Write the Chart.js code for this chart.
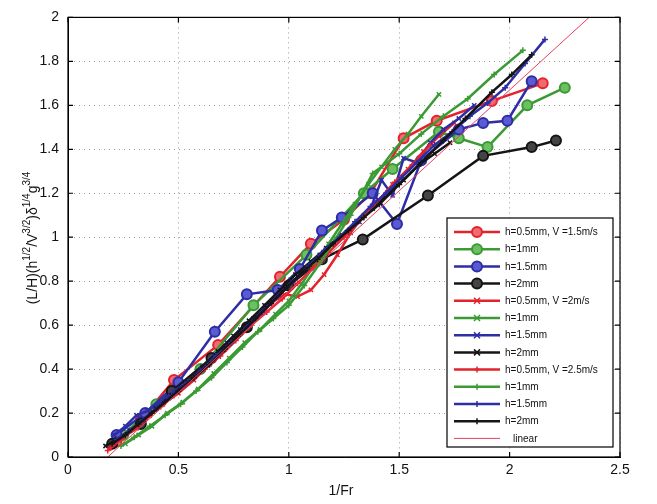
<!DOCTYPE html>
<html>
<head>
<meta charset="utf-8">
<script src="https://cdn.jsdelivr.net/npm/chart.js@4/dist/chart.umd.min.js"></script>
<style>
  html, body { margin: 0; padding: 0; background: #fff; }
  canvas { display: block; }
</style>
</head>
<body>
<canvas id="lengthChart" width="657" height="504" style="width:657px;height:504px"></canvas>
<script>
// tick values
const xTicks = [0, 0.5, 1, 1.5, 2, 2.5];
const yTicks = [0, 0.2, 0.4, 0.6, 0.8, 1, 1.2, 1.4, 1.6, 1.8, 2];

// legend labels (same order as the series below)
const legendLabels = [
    'h=0.5mm, V =1.5m/s', 'h=1mm', 'h=1.5mm', 'h=2mm',
    'h=0.5mm, V =2m/s', 'h=1mm', 'h=1.5mm', 'h=2mm',
    'h=0.5mm, V =2.5m/s', 'h=1mm', 'h=1.5mm', 'h=2mm',
    'linear'
];

// V = 1.5 m/s (circles)
const red15x = [0.22, 0.33, 0.48, 0.68, 0.96, 1.1, 1.25, 1.37, 1.52, 1.67, 1.92, 2.15];
const red15y = [0.07, 0.17, 0.35, 0.51, 0.82, 0.97, 1.08, 1.2, 1.45, 1.53, 1.62, 1.70];
const green15x = [0.25, 0.4, 0.6, 0.84, 1.08, 1.34, 1.47, 1.68, 1.77, 1.9, 2.08, 2.25];
const green15y = [0.1, 0.24, 0.4, 0.69, 0.92, 1.2, 1.31, 1.48, 1.45, 1.41, 1.6, 1.68];
const blue15x = [0.22, 0.35, 0.5, 0.665, 0.81, 0.95, 1.05, 1.15, 1.24, 1.38, 1.49, 1.6, 1.77, 1.88, 1.99, 2.1];
const blue15y = [0.1, 0.2, 0.34, 0.57, 0.74, 0.76, 0.855, 1.03, 1.09, 1.2, 1.06, 1.35, 1.49, 1.52, 1.53, 1.71];
const black15x = [0.2, 0.33, 0.47, 0.65, 0.81, 1.0, 1.15, 1.335, 1.63, 1.88, 2.1, 2.21];
const black15y = [0.06, 0.15, 0.3, 0.45, 0.59, 0.78, 0.9, 0.99, 1.19, 1.37, 1.41, 1.44];

// V = 2 m/s (x markers)
const red2x = [0.19, 0.25, 0.31, 0.37, 0.43, 0.5, 0.57, 0.64, 0.71, 0.78, 0.85, 0.92, 0.98, 1.04, 1.1, 1.16, 1.22, 1.28, 1.34, 1.4, 1.47, 1.54, 1.61, 1.68, 1.75];
const red2y = [0.04, 0.09, 0.13, 0.19, 0.24, 0.29, 0.35, 0.42, 0.49, 0.56, 0.63, 0.7, 0.74, 0.73, 0.76, 0.83, 0.92, 1.02, 1.1, 1.16, 1.24, 1.31, 1.39, 1.46, 1.52];
const green2x = [0.26, 0.32, 0.38, 0.45, 0.52, 0.59, 0.66, 0.73, 0.8, 0.87, 0.94, 1.0, 1.06, 1.12, 1.18, 1.24, 1.3, 1.36, 1.42, 1.48, 1.54, 1.6, 1.68];
const green2y = [0.06, 0.1, 0.14, 0.2, 0.25, 0.31, 0.38, 0.45, 0.52, 0.58, 0.65, 0.71, 0.79, 0.88, 0.97, 1.06, 1.15, 1.24, 1.32, 1.4, 1.47, 1.55, 1.65];
const blue2x = [0.21, 0.26, 0.31, 0.36, 0.42, 0.48, 0.54, 0.6, 0.66, 0.72, 0.78, 0.84, 0.9, 0.96, 1.02, 1.08, 1.14, 1.2, 1.26, 1.32, 1.37, 1.42, 1.47, 1.52, 1.58, 1.64, 1.7, 1.77, 1.84];
const blue2y = [0.1, 0.14, 0.19, 0.21, 0.25, 0.3, 0.34, 0.4, 0.46, 0.52, 0.58, 0.63, 0.69, 0.75, 0.8, 0.86, 0.92, 0.97, 1.02, 1.07, 1.13, 1.26, 1.19, 1.36, 1.34, 1.43, 1.49, 1.54, 1.6];
const black2x = [0.17, 0.22, 0.28, 0.34, 0.4, 0.47, 0.54, 0.61, 0.68, 0.75, 0.82, 0.89, 0.96, 1.03, 1.1, 1.17, 1.24, 1.31, 1.38, 1.45, 1.52, 1.59, 1.66, 1.73];
const black2y = [0.05, 0.08, 0.12, 0.17, 0.22, 0.28, 0.34, 0.41, 0.48, 0.55, 0.62, 0.69, 0.76, 0.83, 0.89, 0.95, 1.01, 1.07, 1.13, 1.2, 1.26, 1.33, 1.38, 1.43];

// V = 2.5 m/s (+ markers)
const red25x = [0.18, 0.24, 0.3, 0.36, 0.42, 0.48, 0.55, 0.62, 0.69, 0.76, 0.83, 0.9, 0.97, 1.04, 1.11, 1.18, 1.25, 1.32, 1.4, 1.48, 1.56, 1.64];
const red25y = [0.03, 0.08, 0.13, 0.18, 0.23, 0.28, 0.34, 0.4, 0.46, 0.53, 0.6, 0.66, 0.72, 0.79, 0.86, 0.93, 1.0, 1.08, 1.16, 1.25, 1.33, 1.42];
const green25x = [0.24, 0.3, 0.37, 0.44, 0.51, 0.58, 0.65, 0.72, 0.79, 0.86, 0.93, 1.0, 1.07, 1.14, 1.21, 1.28, 1.38, 1.5, 1.6, 1.7, 1.81, 1.93, 2.06];
const green25y = [0.05, 0.09, 0.14, 0.19, 0.24, 0.3, 0.36, 0.43, 0.5, 0.57, 0.63, 0.69, 0.78, 0.88, 0.99, 1.1, 1.29, 1.38, 1.47, 1.55, 1.63, 1.74, 1.85];
const blue25x = [0.22, 0.28, 0.34, 0.4, 0.46, 0.53, 0.6, 0.67, 0.74, 0.81, 0.88, 0.95, 1.02, 1.09, 1.16, 1.23, 1.3, 1.37, 1.44, 1.51, 1.58, 1.66, 1.74, 1.82, 1.9, 1.98, 2.07, 2.16];
const blue25y = [0.08, 0.12, 0.17, 0.22, 0.27, 0.33, 0.39, 0.46, 0.52, 0.59, 0.66, 0.73, 0.8, 0.87, 0.94, 1.0, 1.07, 1.14, 1.2, 1.27, 1.34, 1.42, 1.48, 1.55, 1.61, 1.68, 1.79, 1.9];
const black25x = [0.2, 0.26, 0.32, 0.38, 0.44, 0.5, 0.57, 0.64, 0.71, 0.78, 0.85, 0.92, 0.99, 1.06, 1.13, 1.2, 1.27, 1.34, 1.41, 1.5, 1.6, 1.7, 1.8, 1.92, 2.01, 2.1];
const black25y = [0.06, 0.1, 0.15, 0.2, 0.25, 0.3, 0.36, 0.42, 0.49, 0.56, 0.63, 0.7, 0.77, 0.84, 0.9, 0.97, 1.03, 1.09, 1.15, 1.24, 1.34, 1.44, 1.54, 1.66, 1.74, 1.83];

// linear fit
const linearX = [0.18, 2.36];
const linearY = [0, 2];

const RED = '#e3232c', GREEN = '#3b9a34', BLUE = '#2d2da6', BLACK = '#151515';
const FONT = "'Liberation Sans', Arial, sans-serif";

function pts(xs, ys) {
    return xs.map((x, i) => ({ x: x, y: ys[i] }));
}

function circleSet(xs, ys, color, fill) {
    return { data: pts(xs, ys), borderColor: color, backgroundColor: fill, borderWidth: 2.5,
             pointStyle: 'circle', pointRadius: 5, pointBorderWidth: 2, pointBackgroundColor: fill, pointBorderColor: color };
}
function markSet(xs, ys, color, style) {
    return { data: pts(xs, ys), borderColor: color, backgroundColor: color, borderWidth: 2.5,
             pointStyle: style, pointRadius: 3, pointBorderWidth: 1.5, pointBorderColor: color };
}

const datasets = [
    circleSet(red15x, red15y, RED, '#f06a70'),
    circleSet(green15x, green15y, GREEN, '#6cbf62'),
    circleSet(blue15x, blue15y, BLUE, '#5a5ad2'),
    circleSet(black15x, black15y, BLACK, '#444'),
    markSet(red2x, red2y, RED, 'crossRot'),
    markSet(green2x, green2y, GREEN, 'crossRot'),
    markSet(blue2x, blue2y, BLUE, 'crossRot'),
    markSet(black2x, black2y, BLACK, 'crossRot'),
    markSet(red25x, red25y, RED, 'cross'),
    markSet(green25x, green25y, GREEN, 'cross'),
    markSet(blue25x, blue25y, BLUE, 'cross'),
    markSet(black25x, black25y, BLACK, 'cross'),
    { data: pts(linearX, linearY), borderColor: '#e8405e', borderWidth: 1, pointRadius: 0 }
];
datasets.forEach((d, i) => {
    d.label = legendLabels[i];
    d.order = datasets.length - i;   // later series on top, like the original
    d.tension = 0;
});

function drawMarker(ctx, style, x, y, r) {
    ctx.beginPath();
    if (style === 'circle') {
        ctx.arc(x, y, r, 0, Math.PI * 2);
        ctx.fill();
        ctx.stroke();
    } else if (style === 'crossRot') {
        ctx.moveTo(x - r, y - r); ctx.lineTo(x + r, y + r);
        ctx.moveTo(x - r, y + r); ctx.lineTo(x + r, y - r);
        ctx.stroke();
    } else if (style === 'cross') {
        ctx.moveTo(x - r, y); ctx.lineTo(x + r, y);
        ctx.moveTo(x, y - r); ctx.lineTo(x, y + r);
        ctx.stroke();
    }
}

// box, inward ticks, axis titles and the legend, Matlab style
const matlabFrame = {
    id: 'matlabFrame',
    afterDraw(chart) {
        const { ctx, chartArea: a, scales } = chart;
        ctx.save();
        ctx.strokeStyle = '#000';
        ctx.lineWidth = 1.2;
        ctx.strokeRect(a.left, a.top, a.right - a.left, a.bottom - a.top);
        ctx.beginPath();
        xTicks.forEach(v => {
            const p = scales.x.getPixelForValue(v);
            ctx.moveTo(p, a.bottom); ctx.lineTo(p, a.bottom - 5);
            ctx.moveTo(p, a.top); ctx.lineTo(p, a.top + 5);
        });
        yTicks.forEach(v => {
            const p = scales.y.getPixelForValue(v);
            ctx.moveTo(a.left, p); ctx.lineTo(a.left + 5, p);
            ctx.moveTo(a.right, p); ctx.lineTo(a.right - 5, p);
        });
        ctx.stroke();

        // x title
        ctx.fillStyle = '#111';
        ctx.font = '14px ' + FONT;
        ctx.textAlign = 'center';
        ctx.textBaseline = 'middle';
        ctx.fillText('1/Fr', (a.left + a.right) / 2 - 3, 491);

        // y title with superscripts
        const parts = [['(L/H)(h', 0], ['1/2', 1], ['/V', 0], ['3/2', 1], [')\u03b4', 0], ['1/4', 1], ['g', 0], ['3/4', 1]];
        let total = 0;
        parts.forEach(p => {
            ctx.font = (p[1] ? '10px ' : '14px ') + FONT;
            total += ctx.measureText(p[0]).width;
        });
        ctx.translate(33, 238);
        ctx.rotate(-Math.PI / 2);
        ctx.textAlign = 'left';
        ctx.textBaseline = 'middle';
        let cx = -total / 2;
        parts.forEach(p => {
            ctx.font = (p[1] ? '10px ' : '14px ') + FONT;
            ctx.fillText(p[0], cx, p[1] ? -6 : 0);
            cx += ctx.measureText(p[0]).width;
        });
        ctx.setTransform(1, 0, 0, 1, 0, 0);

        // legend
        const lx = 447, ly = 218, lw = 166, lh = 229;
        ctx.fillStyle = '#fff';
        ctx.fillRect(lx, ly, lw, lh);
        ctx.strokeStyle = '#000';
        ctx.lineWidth = 1.2;
        ctx.strokeRect(lx, ly, lw, lh);
        ctx.font = '10px ' + FONT;
        ctx.textBaseline = 'middle';
        chart.data.datasets.forEach((d, i) => {
            const yy = 232 + i * 17.2;
            ctx.strokeStyle = d.borderColor;
            ctx.lineWidth = d.borderWidth;
            ctx.beginPath();
            ctx.moveTo(454, yy); ctx.lineTo(500, yy);
            ctx.stroke();
            if (d.pointRadius > 0) {
                ctx.fillStyle = d.pointBackgroundColor || d.borderColor;
                ctx.lineWidth = d.pointBorderWidth;
                drawMarker(ctx, d.pointStyle, 477, yy, d.pointRadius);
            }
            ctx.fillStyle = '#111';
            ctx.fillText(d.label, d.label === 'linear' ? 513 : 505, yy + 0.5);
        });
        ctx.restore();
    }
};

const tickText = v => String(Math.round(v * 10) / 10);

new Chart(document.getElementById('lengthChart'), {
    type: 'line',
    data: { datasets: datasets },
    plugins: [matlabFrame],
    options: {
        responsive: false,
        animation: false,
        devicePixelRatio: 1,
        layout: { padding: { left: 0, right: 37, top: 14, bottom: 0 } },
        plugins: { legend: { display: false }, tooltip: { enabled: false } },
        scales: {
            x: {
                type: 'linear', min: 0, max: 2.5,
                afterBuildTicks: s => { s.ticks = xTicks.map(v => ({ value: v })); },
                afterFit: s => { s.height = 47; },
                ticks: { font: { size: 14, family: FONT }, color: '#111', padding: 5, maxRotation: 0, callback: tickText },
                grid: { color: '#9a9a9a', drawTicks: false },
                border: { color: '#000', dash: [1, 4] }
            },
            y: {
                type: 'linear', min: 0, max: 2,
                afterBuildTicks: s => { s.ticks = yTicks.map(v => ({ value: v })); },
                afterFit: s => { s.width = 68; },
                ticks: { font: { size: 14, family: FONT }, color: '#111', padding: 9, callback: tickText },
                grid: { color: '#9a9a9a', drawTicks: false },
                border: { color: '#000', dash: [1, 4] }
            }
        }
    }
});
</script>
</body>
</html>
